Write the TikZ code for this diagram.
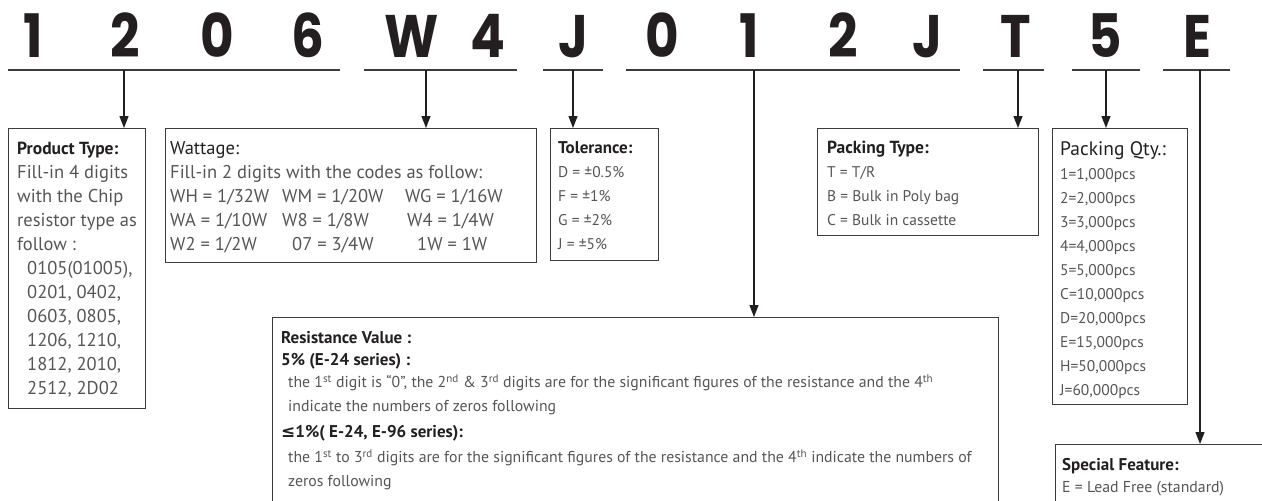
\documentclass[tikz,border=0pt]{standalone}
\usepackage{fontspec}
\setmainfont{PT Sans}
\newfontfamily\digitfont{Poppins}[FakeStretch=0.86]
\newfontfamily\symfont{DejaVu Sans}
\usetikzlibrary{arrows.meta}
\definecolor{ink}{HTML}{231F20}
\definecolor{bodygray}{HTML}{555555}
\definecolor{framegray}{HTML}{3C3C3C}
\newcommand\hd[1]{{\bfseries\color{ink}#1}}
\newcommand\bigtxt{\fontsize{18.5}{24}\selectfont}
\newcommand\smalltxt{\fontsize{15.5}{24}\selectfont}
\newcommand\hdsize{\fontsize{17.5}{24}\selectfont}
\tikzset{
  digit/.style={font=\digitfont\bfseries\fontsize{60}{60}\selectfont, text=ink, anchor=base, inner sep=0},
  codeline/.style={line width=1.8pt, draw=framegray},
  infobox/.style={draw=framegray, line width=1.2pt, anchor=north west, inner sep=0},
  infotext/.style={anchor=north west, align=left, inner sep=0, text=bodygray},
  pointer/.style={-{Triangle[length=12pt,width=9pt]}, line width=1.3pt, draw=ink},
}

\begin{document}
\begin{tikzpicture}[x=1pt,y=-1pt]
			%%%%% START %%%%%
			\useasboundingbox (0,0) rectangle (1262,501);
			\clip (0,0) rectangle (1262,501);
			
			\node[digit] (d1) at (33,57) {1};
			\node[digit] (d2) at (125,57) {2};
			\node[digit] (d3) at (217,57) {0};
			\node[digit] (d4) at (308,57) {6};
			\node[digit] (d5) at (412,57) {W};
			\node[digit] (d6) at (488,57) {4};
			\node[digit] (d7) at (573,57) {J};
			\node[digit] (d8) at (662,57) {0};
			\node[digit] (d9) at (749,57) {1};
			\node[digit] (d10) at (843,57) {2};
			\node[digit] (d11) at (927,57) {J};
			\node[digit] (d12) at (1016,57) {T};
			\node[digit] (d13) at (1105,57) {5};
			\node[digit] (d14) at (1197,57) {E};
			
			\draw[codeline] (8,70) -- (340,70);
			\draw[codeline] (364,70) -- (517,70);
			\draw[codeline] (543,70) -- (603,70);
			\draw[codeline] (626,70) -- (960,70);
			\draw[codeline] (983,70) -- (1044,70);
			\draw[codeline] (1072,70) -- (1140,70);
			\draw[codeline] (1163,70) -- (1230,70);
			
			\coordinate (p1) at (124,70);
			\coordinate (p2) at (426,70);
			\coordinate (p3) at (573,70);
			\coordinate (p4) at (754,70);
			\coordinate (p5) at (1018,70);
			\coordinate (p6) at (1106,70);
			\coordinate (p7) at (1200,70);
			
			\node[infobox, minimum width=137pt, minimum height=280pt] (ptype) at (8,128) {};
			\node[infobox, minimum width=371pt, minimum height=134pt] (watt) at (165,128) {};
			\node[infobox, minimum width=108pt, minimum height=132pt] (tol) at (550,128) {};
			\node[infobox, minimum width=221pt, minimum height=107pt] (pack) at (817,128) {};
			\node[infobox, minimum width=135pt, minimum height=276pt] (qty) at (1052,128) {};
			\node[infobox, minimum width=726pt, minimum height=200pt] (resval) at (272,317) {};
			\node[infobox, minimum width=220pt, minimum height=80pt] (special) at (1055,444) {};
			
			\draw[pointer] (p1) -- (p1 |- ptype.north);
			\draw[pointer] (p2) -- (p2 |- watt.north);
			\draw[pointer] (p3) -- (p3 |- tol.north);
			\draw[pointer] (p4) -- (p4 |- resval.north);
			\draw[pointer] (p5) -- (p5 |- pack.north);
			\draw[pointer] (p6) -- (p6 |- qty.north);
			\draw[pointer] (p7) -- (p7 |- special.north);
			
			\node[infotext, font=\bigtxt] (ptypetext) at (17,141.5) {{\hdsize\hd{Product Type:}}\\
				Fill-in 4 digits\\ with the Chip\\ resistor type as\\ follow :\\
				\hspace*{10pt}0105(01005),\\ \hspace*{10pt}0201, 0402,\\ \hspace*{10pt}0603, 0805,\\
				\hspace*{10pt}1206, 1210,\\ \hspace*{10pt}1812, 2010,\\ \hspace*{10pt}2512, 2D02};
			
			\node[infotext, font=\bigtxt] (watttext) at (170,141.5) {{\color{ink}Wattage:}\\
				Fill-in 2 digits with the codes as follow:\\
				\makebox[112pt][l]{WH = 1/32W}\makebox[123pt][l]{WM = 1/20W}WG = 1/16W\\
				\makebox[112pt][l]{WA = 1/10W}\makebox[125pt][l]{W8 = 1/8W}W4 = 1/4W\\
				\makebox[122pt][l]{W2 = 1/2W}\makebox[125pt][l]{07 = 3/4W}1W = 1W};
			
			\node[infotext, font=\smalltxt] (toltext) at (558,141.5) {{\fontsize{17}{24}\selectfont\hd{Tolerance:}}\\
				D = ±0.5\%\\ F = ±1\%\\ G = ±2\%\\ J = ±5\%};
			
			\node[infotext, font=\smalltxt] (packtext) at (827,141) {{\hdsize\hd{Packing Type:}}\\
				T = T/R\\ B = Bulk in Poly bag\\ C = Bulk in cassette};
			
			\node[infotext, font=\fontsize{15.5}{24}\selectfont] (qtytext) at (1060,141.5) {{\fontsize{19.5}{24}\selectfont\color{ink}Packing Qty.:}\\
				1=1,000pcs\\ 2=2,000pcs\\ 3=3,000pcs\\ 4=4,000pcs\\ 5=5,000pcs\\
				C=10,000pcs\\ D=20,000pcs\\ E=15,000pcs\\ H=50,000pcs\\ J=60,000pcs};
			
			\node[infotext, font=\fontsize{15.8}{22}\selectfont] (resvaltext) at (281,331.5) {{\fontsize{17}{22}\selectfont\hd{Resistance Value :}}\\
				{\fontsize{17}{22}\selectfont\hd{5\% (E-24 series) :}}\\
				\hspace*{7pt}the 1\textsuperscript{st} digit is “0”, the 2\textsuperscript{nd} \& 3\textsuperscript{rd} digits are for the significant figures of the resistance and the 4\textsuperscript{th}\\[2pt]
				\hspace*{7pt}indicate the numbers of zeros following\\[4pt]
				{\fontsize{17}{22}\selectfont\hd{{\symfont ≤}1\%( E-24, E-96 series):}}\\[3pt]
				\hspace*{7pt}the 1\textsuperscript{st} to 3\textsuperscript{rd} digits are for the significant figures of the resistance and the 4\textsuperscript{th} indicate the numbers of\\[2pt]
				\hspace*{7pt}zeros following};
			
			\node[infotext, font=\fontsize{15.8}{22}\selectfont] (specialtext) at (1062,458.5) {{\fontsize{17}{22}\selectfont\hd{Special Feature:}}\\
				E = Lead Free (standard)};
			
			%%%%% END %%%%%
\end{tikzpicture}
\end{document}
